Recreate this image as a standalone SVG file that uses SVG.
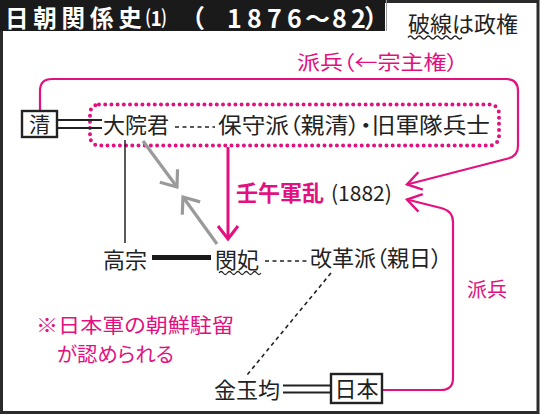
<svg xmlns="http://www.w3.org/2000/svg" width="540" height="415" viewBox="0 0 540 415">
<style>
.t{font-family:"Noto Sans CJK JP","Noto Sans",sans-serif;fill:#222;font-feature-settings:"palt"}
.p{fill:#e2117f}
.ln{fill:none;stroke:#222}
.pk{fill:none;stroke:#e2117f;stroke-width:2.2}
.gr{fill:none;stroke:#9a9a9a;stroke-width:3.2}
.dash{fill:none;stroke:#222;stroke-width:1.6;stroke-dasharray:4 3.5}
.wave{fill:none;stroke:#222;stroke-width:1.3}
.box{fill:#fff;stroke:#222;stroke-width:2.4}
.tt{font-family:"Noto Sans CJK JP","Noto Sans",sans-serif;fill:#fff;font-weight:700}
</style>
<defs>
<marker id="mp" markerUnits="userSpaceOnUse" markerWidth="20" markerHeight="24" viewBox="-18 -12 20 24" refX="0" refY="0" orient="auto" overflow="visible"><path d="M-14,-9 L0,0 L-14,9" fill="none" stroke="#e2117f" stroke-width="2.4"/></marker>
<marker id="mv" markerUnits="userSpaceOnUse" markerWidth="20" markerHeight="24" viewBox="-18 -12 20 24" refX="0" refY="0" orient="auto" overflow="visible"><path d="M-13,-10 L0,0 L-13,10" fill="none" stroke="#e2117f" stroke-width="3"/></marker>
<marker id="mg" markerUnits="userSpaceOnUse" markerWidth="20" markerHeight="26" viewBox="-18 -13 20 26" refX="0" refY="0" orient="auto" overflow="visible"><path d="M-14,-11 L0,0 L-14,11" fill="none" stroke="#9a9a9a" stroke-width="3.2"/></marker>
</defs>
<rect x="1.5" y="1.5" width="536.5" height="411" fill="#fff" stroke="#2b2b2b" stroke-width="3"/>
<g id="title">
<rect x="0" y="0" width="385" height="31" fill="#1a1a1a"/>
<line x1="386.5" y1="0" x2="386.5" y2="31" stroke="#999" stroke-width="1"/>
<text class="tt" x="5" y="27" font-size="23.5" letter-spacing="4.8">日朝関係史</text>
<text class="tt" x="146" y="26" font-size="20">⑴</text>
<text class="tt" font-size="25" y="27.5" x="180 227 247 267 287 305 332 351 364">（1876～82）</text>
</g>
<g id="legend">
<text class="t" x="408" y="32" font-size="22" style="font-feature-settings:normal">破線は政権</text>
<path class="wave" d="M408,37.5 q2.25,-3 4.5,0 t4.5,0 t4.5,0 t4.5,0 t4.5,0 t4.5,0 t4.5,0 t4.5,0 t4.5,0 t4.5,0 t4.5,0 t4.5,0"/>
</g>
<g id="connectors">
<path class="pk" d="M40,111 L40,91 Q40,79 52,79 L506,79 Q518,79 518,91 L518,146 Q518,156 508,158.5 L407,184.5" marker-end="url(#mp)"/>
<path class="pk" d="M383,390 L441,390 Q453,390 453,378 L453,222 Q453,211 441,208 L407,199.5" marker-end="url(#mp)"/>
<rect x="90" y="104.5" width="409" height="41" rx="9" fill="none" stroke="#e2117f" stroke-width="4" stroke-linecap="round" stroke-dasharray="0 6.2"/>
<line x1="58" y1="120" x2="102" y2="120" stroke="#222" stroke-width="2"/>
<line x1="58" y1="128" x2="102" y2="128" stroke="#222" stroke-width="2"/>
<line class="dash" x1="175" y1="127" x2="215" y2="127"/>
<line class="ln" x1="125" y1="140" x2="125" y2="243" stroke-width="1.5"/>
<line x1="152" y1="257.5" x2="211" y2="257.5" stroke="#1a1a1a" stroke-width="5"/>
<line class="dash" x1="265" y1="261" x2="308" y2="261"/>
<line class="dash" x1="331" y1="273" x2="247" y2="375" stroke-width="2"/>
<line x1="283" y1="385.5" x2="330" y2="385.5" stroke="#222" stroke-width="2"/>
<line x1="283" y1="392.5" x2="330" y2="392.5" stroke="#222" stroke-width="2"/>
<line x1="228" y1="147" x2="228" y2="239" stroke="#e2117f" stroke-width="3" marker-end="url(#mv)"/>
<line class="gr" x1="143" y1="141" x2="177" y2="187" marker-end="url(#mg)"/>
<line class="gr" x1="217" y1="244" x2="183" y2="197" marker-end="url(#mg)"/>
</g>
<g id="shin">
<rect class="box" x="22" y="111" width="35" height="26"/>
<text class="t" x="39.5" y="132" font-size="21" text-anchor="middle">清</text>
</g>
<g id="taiinkun">
<text class="t" x="103" y="133" font-size="22">大院君</text>
</g>
<g id="hoshuha">
<text class="t" x="218" y="133" font-size="22" textLength="272" lengthAdjust="spacingAndGlyphs">保守派（親清）・旧軍隊兵士</text>
</g>
<g id="jingo">
<text class="t p" x="236" y="201" font-size="22" font-weight="700">壬午軍乱</text>
<text class="t" x="331" y="201" font-size="21">(1882)</text>
</g>
<g id="haheiTop">
<text class="t p" x="297" y="70" font-size="20" textLength="161" lengthAdjust="spacingAndGlyphs">派兵（←宗主権）</text>
</g>
<g id="kojong">
<text class="t" x="103" y="268" font-size="22">高宗</text>
</g>
<g id="binhi">
<text class="t" x="215" y="268" font-size="22">閔妃</text>
<path class="wave" d="M219,273 q2.1,-3 4.2,0 t4.2,0 t4.2,0 t4.2,0 t4.2,0 t4.2,0 t4.2,0 t4.2,0 t4.2,0 t4.2,0"/>
</g>
<g id="kaikakuha">
<text class="t" x="310" y="266" font-size="22" textLength="132" lengthAdjust="spacingAndGlyphs">改革派（親日）</text>
</g>
<g id="note">
<text class="t p" x="36" y="333" font-size="20" textLength="198" lengthAdjust="spacingAndGlyphs">※日本軍の朝鮮駐留</text>
<text class="t p" x="57" y="362" font-size="20" textLength="117" lengthAdjust="spacingAndGlyphs">が認められる</text>
</g>
<g id="haheiRight">
<text class="t p" x="467" y="297" font-size="20">派兵</text>
</g>
<g id="kimokukin">
<text class="t" x="214" y="398" font-size="22">金玉均</text>
</g>
<g id="nihon">
<rect class="box" x="331" y="374" width="51" height="29"/>
<text class="t" x="356.5" y="396.5" font-size="22" text-anchor="middle">日本</text>
</g>
</svg>
